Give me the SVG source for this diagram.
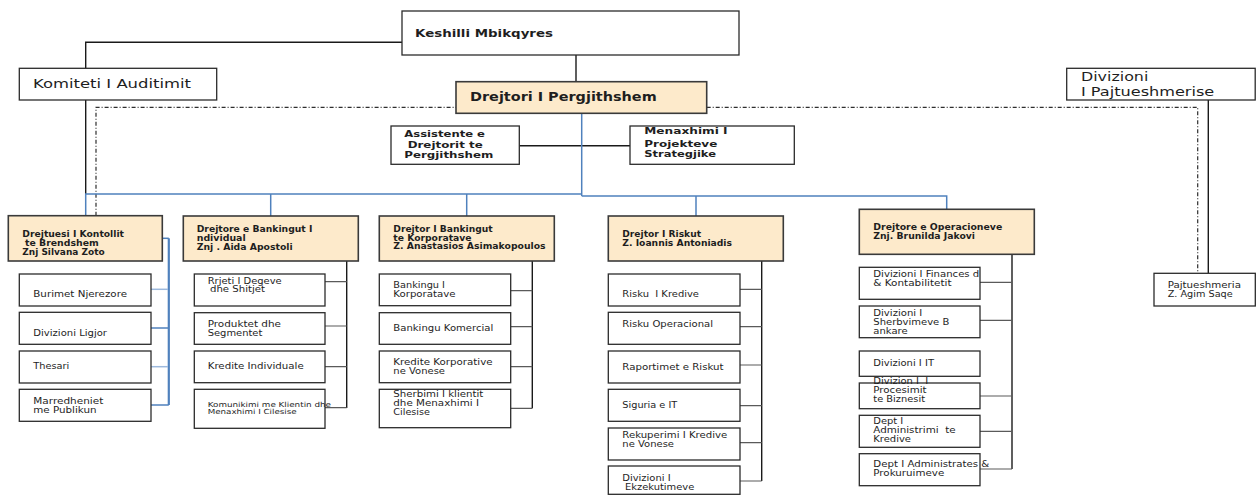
<svg xmlns="http://www.w3.org/2000/svg" width="1256" height="495" viewBox="0 0 1256 495">
<style>
.bg{fill:#ffffff}
.box{fill:#ffffff;stroke:#2b2b2b;stroke-width:1.3}
.hdr{fill:#FDEACB;stroke:#3a3a3a;stroke-width:1.6}
.t{font-family:"DejaVu Sans",Verdana,sans-serif;font-size:8.3px;fill:#1e1e1e}
.s7{font-size:7px}
.b{font-weight:bold}
.lg{font-size:11.5px}
.blue{stroke:#4F81BD;stroke-width:1.5;fill:none}
.lblue{stroke:#9DB9DD;stroke-width:1.5;fill:none}
.blk{stroke:#1a1a1a;stroke-width:1.4;fill:none}
.br{stroke:#5a5a5a;stroke-width:1.2;fill:none}
.dd{stroke:#2e2e2e;stroke-width:1.2;stroke-dasharray:4 2 1 2;fill:none}
</style>
<rect class="bg" x="0" y="0" width="1256" height="495"/>
<g id="connectors">
  <path class="blk" d="M402,42.3 H85.7 V68.3"/>
  <path class="blk" d="M85.7,100 V194"/>
  <path class="blk" d="M576,55 V81.7"/>
  <path class="blk" d="M519.3,145.7 H630"/>
  <path class="blk" d="M1208.3,100 V273.3"/>
  <path class="dd" d="M96,215.7 V107.3 H456"/>
  <path class="dd" d="M706.7,107.3 H1197.7 V273.3"/>
  <path class="blue" d="M581.7,113.3 V196"/>
  <path class="blue" d="M85.7,215.7 V194 H581.7"/>
  <path class="blue" d="M581.7,196 H946.7 V209.3"/>
  <path class="blue" d="M270.7,194 V216"/>
  <path class="blue" d="M466.7,194 V216"/>
  <path class="blue" d="M696,196 V216"/>
  <path class="blue" d="M162.3,238.3 H168.8"/>
  <path class="blue" style="stroke-width:2.2" d="M168.8,238.3 V405"/>
  <path class="lblue" d="M151,289.3 H168"/>
  <path class="blue" d="M151,328 H168"/>
  <path class="lblue" d="M151,366.7 H168"/>
  <path class="blue" d="M151,405 H168.8"/>
  <path class="blk" d="M346.7,261 V408"/>
  <path class="br" d="M325,281.7 H346.7 M325,326 H346.7 M325,366.7 H346.7 M325,407.7 H346.7"/>
  <path class="blk" d="M532.3,261 V408.3"/>
  <path class="br" d="M510.7,290.7 H532.3 M510.7,326.7 H532.3 M510.7,366.7 H532.3 M510.7,408.3 H532.3"/>
  <path class="blk" d="M761.7,261 V481"/>
  <path class="br" d="M740,289.3 H761.7 M740,326.7 H761.7 M740,365 H761.7 M740,405.7 H761.7 M740,442.7 H761.7 M740,481 H761.7"/>
  <path class="blk" d="M1012,254.3 V469"/>
  <path class="br" d="M980,282.3 H1012 M980,320.3 H1012 M980,396 H1012 M980,431.3 H1012 M980,469 H1012"/>
</g>
<g id="keshilli">
  <rect class="box" x="402" y="11" width="337" height="44"/>
  <text class="t b" style="font-size:11px" x="415" y="37" textLength="138" lengthAdjust="spacingAndGlyphs">Keshilli Mbikqyres</text>
</g>
<g id="komiteti">
  <rect class="box" x="19.3" y="68.3" width="197.4" height="31.7"/>
  <text class="t lg" x="33" y="88" textLength="158" lengthAdjust="spacingAndGlyphs">Komiteti I Auditimit</text>
</g>
<g id="drejtori">
  <rect class="hdr" x="456" y="81.7" width="250.7" height="31.6"/>
  <text class="t b" style="font-size:12px" x="470" y="101" textLength="186.7" lengthAdjust="spacingAndGlyphs">Drejtori I Pergjithshem</text>
</g>
<g id="assistente">
  <rect class="box" x="391" y="126" width="128.3" height="38.3"/>
  <text class="t b" style="font-size:9.3px" x="404.3" y="137.3" textLength="80.7" lengthAdjust="spacingAndGlyphs">Assistente e</text>
  <text class="t b" style="font-size:9.3px" x="407.7" y="147.7" textLength="75" lengthAdjust="spacingAndGlyphs">Drejtorit te</text>
  <text class="t b" style="font-size:9.3px" x="404.3" y="158.3" textLength="89" lengthAdjust="spacingAndGlyphs">Pergjithshem</text>
</g>
<g id="menaxhimi">
  <rect class="box" x="630" y="126" width="164.3" height="38.3"/>
  <text class="t b" style="font-size:9.3px" x="644.3" y="134.3" textLength="83.3" lengthAdjust="spacingAndGlyphs">Menaxhimi I</text>
  <text class="t b" style="font-size:9.3px" x="644.3" y="146.7" textLength="73" lengthAdjust="spacingAndGlyphs">Projekteve</text>
  <text class="t b" style="font-size:9.3px" x="644.3" y="157.3" textLength="71.7" lengthAdjust="spacingAndGlyphs">Strategjike</text>
</g>
<g id="divizioni-pajtueshmerise">
  <rect class="box" x="1066.7" y="68.3" width="188.5" height="31.7"/>
  <text class="t lg" x="1081" y="81" textLength="67.3" lengthAdjust="spacingAndGlyphs">Divizioni</text>
  <text class="t lg" x="1081" y="96" textLength="133.3" lengthAdjust="spacingAndGlyphs">I Pajtueshmerise</text>
</g>
<g id="pajtueshmeria">
  <rect class="box" x="1154" y="273.3" width="101.3" height="32.7"/>
  <text class="t" x="1167.7" y="288" textLength="73.3" lengthAdjust="spacingAndGlyphs">Pajtueshmeria</text>
  <text class="t" x="1167.7" y="297" textLength="65" lengthAdjust="spacingAndGlyphs">Z. Agim Saqe</text>
</g>
<g id="col1-header">
  <rect class="hdr" x="8.3" y="215.7" width="154" height="45.3"/>
  <text class="t b" x="22.3" y="236.7" textLength="101.7" lengthAdjust="spacingAndGlyphs">Drejtuesi I Kontollit</text>
  <text class="t b" x="25" y="245.7" textLength="73.7" lengthAdjust="spacingAndGlyphs">te Brendshem</text>
  <text class="t b" x="22.3" y="254.7" textLength="82.3" lengthAdjust="spacingAndGlyphs">Znj Silvana Zoto</text>
</g>
<g id="burimet">
  <rect class="box" x="19.3" y="274" width="131.7" height="32"/>
  <text class="t" x="33.3" y="296.7" textLength="93.7" lengthAdjust="spacingAndGlyphs">Burimet Njerezore</text>
</g>
<g id="ligjor">
  <rect class="box" x="19.3" y="312.3" width="131.7" height="32"/>
  <text class="t" x="33.3" y="335.7" textLength="73.7" lengthAdjust="spacingAndGlyphs">Divizioni Ligjor</text>
</g>
<g id="thesari">
  <rect class="box" x="19.3" y="351" width="131.7" height="32"/>
  <text class="t" x="33.3" y="369.3" textLength="36" lengthAdjust="spacingAndGlyphs">Thesari</text>
</g>
<g id="marredheniet">
  <rect class="box" x="19.3" y="389.3" width="131.7" height="32"/>
  <text class="t" x="33.3" y="403.7" textLength="70" lengthAdjust="spacingAndGlyphs">Marredheniet</text>
  <text class="t" x="33.3" y="412.7" textLength="63.3" lengthAdjust="spacingAndGlyphs">me Publikun</text>
</g>
<g id="col2-header">
  <rect class="hdr" x="183.3" y="216" width="175" height="45"/>
  <text class="t b" x="196.7" y="231.7" textLength="115.7" lengthAdjust="spacingAndGlyphs">Drejtore e Bankingut I</text>
  <text class="t b" x="196.7" y="240.7" textLength="49" lengthAdjust="spacingAndGlyphs">ndividual</text>
  <text class="t b" x="196.7" y="250" textLength="96" lengthAdjust="spacingAndGlyphs">Znj . Aida Apostoli</text>
</g>
<g id="rrjeti">
  <rect class="box" x="194.3" y="274" width="130.7" height="32"/>
  <text class="t" x="207.7" y="284" textLength="74" lengthAdjust="spacingAndGlyphs">Rrjeti I Degeve</text>
  <text class="t" x="210" y="292.3" textLength="55" lengthAdjust="spacingAndGlyphs">dhe Shitjet</text>
</g>
<g id="produktet">
  <rect class="box" x="194.3" y="312.7" width="130.7" height="31.6"/>
  <text class="t" x="207.7" y="326.7" textLength="73.3" lengthAdjust="spacingAndGlyphs">Produktet dhe</text>
  <text class="t" x="207.7" y="335.7" textLength="54.7" lengthAdjust="spacingAndGlyphs">Segmentet</text>
</g>
<g id="kredite-individuale">
  <rect class="box" x="194.3" y="351" width="130.7" height="31.7"/>
  <text class="t" x="207.7" y="369.3" textLength="96" lengthAdjust="spacingAndGlyphs">Kredite Individuale</text>
</g>
<g id="komunikimi">
  <rect class="box" x="194.3" y="389.3" width="130.7" height="39"/>
  <text class="t s7" x="207.7" y="406.7" textLength="123.3" lengthAdjust="spacingAndGlyphs">Komunikimi me Klientin dhe</text>
  <text class="t s7" x="207.7" y="414.3" textLength="89" lengthAdjust="spacingAndGlyphs">Menaxhimi I Cilesise</text>
</g>
<g id="col3-header">
  <rect class="hdr" x="379.3" y="216" width="175" height="45"/>
  <text class="t b" x="393.3" y="231.7" textLength="99.3" lengthAdjust="spacingAndGlyphs">Drejtor I Bankingut</text>
  <text class="t b" x="393.3" y="240.7" textLength="78.3" lengthAdjust="spacingAndGlyphs">te Korporatave</text>
  <text class="t b" x="393.3" y="249.3" textLength="152.3" lengthAdjust="spacingAndGlyphs">Z. Anastasios Asimakopoulos</text>
</g>
<g id="bankingu-korporatave">
  <rect class="box" x="379.3" y="274" width="131.4" height="31.7"/>
  <text class="t" x="393.3" y="287.7" textLength="51.7" lengthAdjust="spacingAndGlyphs">Bankingu I</text>
  <text class="t" x="393.3" y="296.7" textLength="62.3" lengthAdjust="spacingAndGlyphs">Korporatave</text>
</g>
<g id="bankingu-komercial">
  <rect class="box" x="379.3" y="312.7" width="131.4" height="31.6"/>
  <text class="t" x="393.3" y="330.7" textLength="100" lengthAdjust="spacingAndGlyphs">Bankingu Komercial</text>
</g>
<g id="kredite-korporative">
  <rect class="box" x="379.3" y="351" width="131.4" height="31.7"/>
  <text class="t" x="393.3" y="365" textLength="99.3" lengthAdjust="spacingAndGlyphs">Kredite Korporative</text>
  <text class="t" x="393.3" y="374" textLength="51.7" lengthAdjust="spacingAndGlyphs">ne Vonese</text>
</g>
<g id="sherbimi">
  <rect class="box" x="379.3" y="389.3" width="131.4" height="38.4"/>
  <text class="t" x="393.3" y="397.3" textLength="90" lengthAdjust="spacingAndGlyphs">Sherbimi I klientit</text>
  <text class="t" x="393.3" y="406" textLength="85.7" lengthAdjust="spacingAndGlyphs">dhe Menaxhimi I</text>
  <text class="t" x="393.3" y="415.3" textLength="36.7" lengthAdjust="spacingAndGlyphs">Cilesise</text>
</g>
<g id="col4-header">
  <rect class="hdr" x="608.3" y="216" width="175" height="45"/>
  <text class="t b" x="622.3" y="236.7" textLength="78.7" lengthAdjust="spacingAndGlyphs">Drejtor I Riskut</text>
  <text class="t b" x="622.3" y="245.7" textLength="109.7" lengthAdjust="spacingAndGlyphs">Z. Ioannis Antoniadis</text>
</g>
<g id="risku-kredive">
  <rect class="box" x="608.3" y="274" width="131.7" height="32"/>
  <text class="t" xml:space="preserve" x="622.3" y="296.7" textLength="76.7" lengthAdjust="spacingAndGlyphs">Risku  I Kredive</text>
</g>
<g id="risku-operacional">
  <rect class="box" x="608.3" y="312.3" width="131.7" height="32"/>
  <text class="t" x="622.3" y="326.7" textLength="90.7" lengthAdjust="spacingAndGlyphs">Risku Operacional</text>
</g>
<g id="raportimet">
  <rect class="box" x="608.3" y="351" width="131.7" height="32"/>
  <text class="t" x="622.3" y="370" textLength="101.3" lengthAdjust="spacingAndGlyphs">Raportimet e Riskut</text>
</g>
<g id="siguria">
  <rect class="box" x="608.3" y="389.3" width="131.7" height="32"/>
  <text class="t" x="622.3" y="408" textLength="55" lengthAdjust="spacingAndGlyphs">Siguria e IT</text>
</g>
<g id="rekuperimi">
  <rect class="box" x="608.3" y="428" width="131.7" height="32"/>
  <text class="t" x="622.3" y="437.7" textLength="105" lengthAdjust="spacingAndGlyphs">Rekuperimi I Kredive</text>
  <text class="t" x="622.3" y="446.7" textLength="51.7" lengthAdjust="spacingAndGlyphs">ne Vonese</text>
</g>
<g id="ekzekutimeve">
  <rect class="box" x="608.3" y="466" width="131.7" height="28.3"/>
  <text class="t" x="622.3" y="480.7" textLength="48.3" lengthAdjust="spacingAndGlyphs">Divizioni I</text>
  <text class="t" x="625" y="489.7" textLength="69.3" lengthAdjust="spacingAndGlyphs">Ekzekutimeve</text>
</g>
<g id="col5-header">
  <rect class="hdr" x="859.3" y="209.3" width="175" height="45"/>
  <text class="t b" x="873.3" y="230" textLength="129" lengthAdjust="spacingAndGlyphs">Drejtore e Operacioneve</text>
  <text class="t b" x="873.3" y="239" textLength="101.7" lengthAdjust="spacingAndGlyphs">Znj. Brunilda Jakovi</text>
</g>
<g id="finances">
  <rect class="box" x="859.3" y="267.3" width="120.7" height="32"/>
  <text class="t" x="873.3" y="277" textLength="106" lengthAdjust="spacingAndGlyphs">Divizioni I Finances d</text>
  <text class="t" x="873.3" y="286" textLength="78.3" lengthAdjust="spacingAndGlyphs">&amp; Kontabilitetit</text>
</g>
<g id="sherbvimeve">
  <rect class="box" x="859.3" y="306" width="120.7" height="31.7"/>
  <text class="t" x="873.3" y="315.7" textLength="49" lengthAdjust="spacingAndGlyphs">Divizioni I</text>
  <text class="t" x="873.3" y="324.7" textLength="76" lengthAdjust="spacingAndGlyphs">Sherbvimeve B</text>
  <text class="t" x="873.3" y="333.7" textLength="34.3" lengthAdjust="spacingAndGlyphs">ankare</text>
</g>
<g id="divizioni-it">
  <rect class="box" x="859.3" y="351" width="120.7" height="25.3"/>
  <text class="t" x="873.3" y="365.7" textLength="60.7" lengthAdjust="spacingAndGlyphs">Divizioni I IT</text>
</g>
<g id="procesimit">
  <rect class="box" x="859.3" y="383" width="120.7" height="25.7"/>
  <text class="t" xml:space="preserve" x="873.3" y="384.3" textLength="55" lengthAdjust="spacingAndGlyphs">Divizion I  I</text>
  <text class="t" x="873.3" y="393.3" textLength="53.3" lengthAdjust="spacingAndGlyphs">Procesimit</text>
  <text class="t" x="873.3" y="402.3" textLength="51.7" lengthAdjust="spacingAndGlyphs">te Biznesit</text>
</g>
<g id="administrimi">
  <rect class="box" x="859.3" y="415.3" width="120.7" height="32"/>
  <text class="t" x="873.3" y="424.3" textLength="30" lengthAdjust="spacingAndGlyphs">Dept I</text>
  <text class="t" xml:space="preserve" x="873.3" y="433.3" textLength="82.3" lengthAdjust="spacingAndGlyphs">Administrimi  te</text>
  <text class="t" x="873.3" y="442.3" textLength="37.7" lengthAdjust="spacingAndGlyphs">Kredive</text>
</g>
<g id="administrates">
  <rect class="box" x="859.3" y="453.7" width="120.7" height="32"/>
  <text class="t" x="873.3" y="467.3" textLength="116" lengthAdjust="spacingAndGlyphs">Dept I Administrates &amp;</text>
  <text class="t" x="873.3" y="476.3" textLength="71" lengthAdjust="spacingAndGlyphs">Prokuruimeve</text>
</g>
</svg>
